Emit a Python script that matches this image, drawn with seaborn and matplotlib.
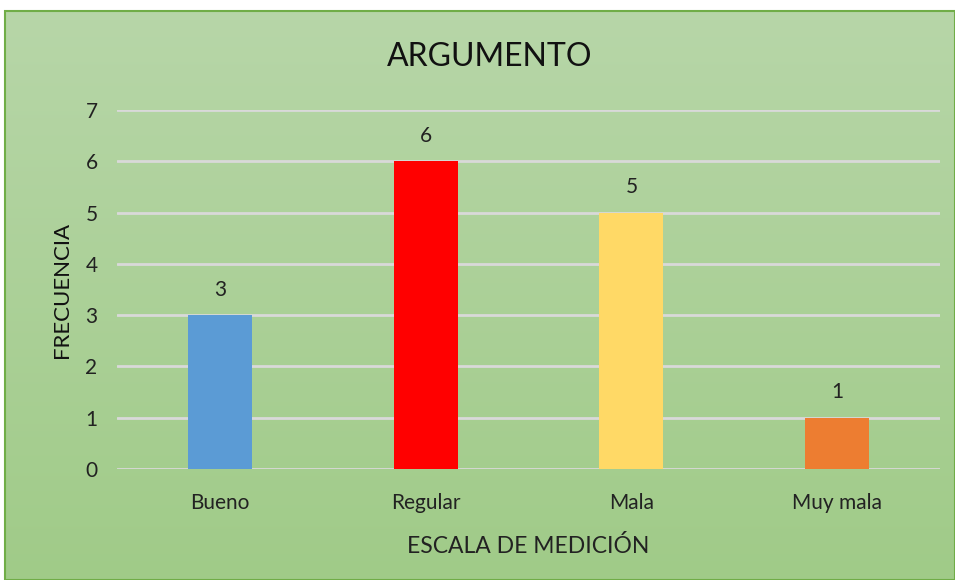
import numpy as np
import pandas as pd
import matplotlib
matplotlib.use("Agg")
import matplotlib.pyplot as plt
import seaborn as sns
from matplotlib.patches import Rectangle

# Chart data
categorias = ['Bueno', 'Regular', 'Mala', 'Muy mala']
frecuencia = [3, 6, 5, 1]
colores = ['#5b9bd5', '#ff0000', '#ffd966', '#ed7d31']

df = pd.DataFrame({'escala': categorias, 'frecuencia': frecuencia})

sns.set_style('white')
plt.rcParams['font.family'] = ['Lato', 'DejaVu Sans']

fig = plt.figure(figsize=(9.55, 5.8), dpi=100)

# green gradient background
bg = fig.add_axes([5 / 955, 0, 950 / 955, 569 / 580], zorder=0)
grad = np.linspace(0, 1, 256).reshape(-1, 1)
cmap = matplotlib.colors.LinearSegmentedColormap.from_list('g', ['#b7d6a8', '#a0cb88'])
bg.imshow(grad, aspect='auto', cmap=cmap, extent=[0, 1, 0, 1])
bg.set_axis_off()
fig.patches.append(Rectangle((5 / 955, 0), 950 / 955, 569 / 580, transform=fig.transFigure,
                             fill=False, edgecolor='#70ad47', linewidth=1.5, zorder=1))

ax = fig.add_axes([117 / 955, 1 - 469 / 580, 823 / 955, 359 / 580], zorder=2)
ax.patch.set_alpha(0)
sns.barplot(data=df, x='escala', y='frecuencia', hue='escala', palette=colores,
            width=0.31, legend=False, ax=ax, saturation=1, linewidth=0, zorder=3)

ax.set_ylim(0, 7)
ax.set_yticks(range(0, 8))
ax.yaxis.grid(True, color='#d9d9d9', linewidth=2)
ax.set_axisbelow(True)
for s in ax.spines.values():
    s.set_visible(False)
ax.tick_params(axis='both', length=0, labelsize=15, colors='#222222')
ax.tick_params(axis='y', pad=14)
ax.tick_params(axis='x', pad=17)

for p, v in zip(ax.patches, frecuencia):
    ax.annotate(str(v), (p.get_x() + p.get_width() / 2, v), xytext=(0, 11),
                textcoords='offset points', ha='center', va='bottom', fontsize=15, color='#222222')

ax.set_xlabel('ESCALA DE MEDICIÓN', fontsize=16.5, color='#222222', labelpad=16)
ax.set_ylabel('FRECUENCIA', fontsize=16, color='#111111', labelpad=10)
fig.text(490 / 955, 1 - 57 / 580, 'ARGUMENTO', ha='center', va='center', fontsize=23, color='#111111')

fig.savefig('out.png', dpi=100)
